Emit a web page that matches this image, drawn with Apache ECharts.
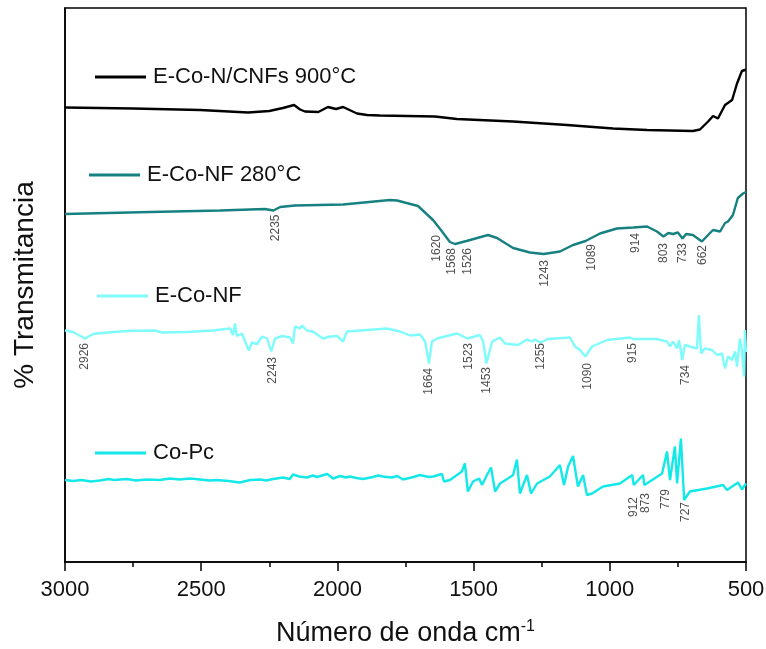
<!DOCTYPE html>
<html>
<head>
<meta charset="utf-8">
<script src="https://cdn.jsdelivr.net/npm/echarts@6/dist/echarts.min.js"></script>
<style>
  html, body { margin: 0; padding: 0; background: #fff; }
  #chart { width: 766px; height: 649px; }
</style>
</head>
<body>
<div id="chart"></div>
<script>
// FTIR spectra, stacked with vertical offsets (arbitrary transmittance units)
const xTicks = [3000, 2500, 2000, 1500, 1000, 500];
const seriesNames = ['E-Co-N/CNFs 900°C', 'E-Co-NF 280°C', 'E-Co-NF', 'Co-Pc'];

// [wavenumber (cm-1), transmittance]
const cnf900 = [[3000,90.9],[2750,90.7],[2504,90.4],[2328,89.9],[2250,90.2],[2200,90.8],[2159,91.4],[2137,90.5],[2119,90.1],[2070,90.0],[2035,91.0],[2005,90.6],[1979,91.0],[1928,89.7],[1891,89.4],[1844,89.3],[1642,89.1],[1561,88.6],[1355,88.1],[1157,87.4],[988,86.7],[863,86.4],[695,86.2],[669,86.5],[639,88.1],[621,89.2],[603,88.7],[577,91.4],[551,92.4],[533,95.7],[515,98.2],[504,98.4],[500,98.4]];

const nf280 = [[3000,69.6],[2688,70.0],[2431,70.3],[2266,70.6],[2235,70.3],[2210,71.0],[2156,71.3],[1979,71.5],[1807,72.4],[1781,72.3],[1704,71.2],[1649,68.4],[1620,66.4],[1587,64.0],[1568,63.6],[1526,64.2],[1513,64.4],[1447,65.4],[1414,64.8],[1355,62.8],[1293,61.9],[1243,61.6],[1183,62.1],[1135,63.4],[1089,64.2],[1036,65.7],[974,66.7],[914,66.9],[863,67.1],[827,66.1],[803,65.1],[785,65.8],[768,65.6],[750,65.9],[733,64.7],[720,65.6],[695,65.4],[662,64.1],[632,65.8],[621,66.4],[595,66.1],[577,67.8],[566,68.1],[548,69.4],[530,72.8],[511,73.7],[500,74.0]];

const nf = [[3000,46.3],[2971,46.0],[2926,44.7],[2897,45.6],[2846,45.9],[2772,46.2],[2670,46.3],[2644,45.9],[2552,46.0],[2457,46.3],[2394,46.7],[2383,45.4],[2376,47.7],[2369,45.2],[2350,45.7],[2339,44.1],[2325,42.3],[2314,43.9],[2295,43.6],[2277,45.1],[2258,44.7],[2243,42.1],[2229,44.7],[2203,45.2],[2174,44.9],[2163,43.7],[2156,47.1],[2137,46.7],[2130,47.3],[2112,46.3],[2090,46.1],[2053,44.7],[2027,45.1],[2001,45.2],[1979,44.1],[1965,46.1],[1917,46.3],[1818,46.7],[1770,46.1],[1733,45.3],[1697,45.5],[1678,44.1],[1664,39.7],[1653,44.1],[1634,44.7],[1561,45.7],[1523,44.7],[1477,45.4],[1465,44.1],[1453,39.7],[1432,44.1],[1403,44.9],[1385,43.7],[1337,43.4],[1304,44.5],[1286,44.1],[1275,44.5],[1255,43.9],[1227,44.6],[1146,44.9],[1128,43.1],[1109,42.4],[1090,41.1],[1065,43.1],[1010,44.4],[926,44.9],[915,44.6],[827,44.6],[790,44.1],[779,43.1],[768,44.1],[753,42.7],[746,44.4],[734,40.4],[724,43.4],[706,43.1],[680,42.7],[673,49.4],[665,41.7],[651,42.7],[625,42.4],[606,41.4],[588,41.7],[577,38.7],[566,41.1],[551,40.4],[540,42.1],[533,39.1],[522,44.7],[515,42.1],[507,37.1],[504,46.4],[500,42.0]];

const copc = [[3000,16.4],[2970,16.2],[2940,16.4],[2905,16.1],[2872,16.3],[2840,16.6],[2820,16.4],[2772,16.6],[2740,16.3],[2700,16.5],[2651,16.4],[2615,16.7],[2580,16.5],[2540,16.7],[2504,16.5],[2470,16.3],[2442,16.4],[2400,16.2],[2358,15.9],[2320,16.4],[2284,16.5],[2260,16.3],[2236,16.6],[2200,16.9],[2175,16.6],[2163,17.5],[2140,17.1],[2112,16.9],[2090,17.3],[2075,17.0],[2038,17.6],[2025,17.1],[2016,16.7],[1990,17.2],[1970,16.9],[1954,17.1],[1930,16.8],[1906,16.6],[1870,17.0],[1850,17.3],[1833,17.1],[1800,16.9],[1780,17.2],[1759,16.5],[1720,17.0],[1697,17.4],[1665,17.0],[1649,17.1],[1616,17.6],[1609,16.1],[1587,16.4],[1543,18.1],[1532,19.7],[1521,14.1],[1502,16.1],[1480,16.7],[1469,15.4],[1451,17.4],[1436,18.9],[1421,14.1],[1403,15.7],[1374,16.7],[1355,17.4],[1341,20.5],[1330,13.7],[1304,17.4],[1289,13.7],[1267,15.7],[1220,17.1],[1183,19.4],[1168,15.4],[1153,19.1],[1135,21.2],[1117,15.1],[1098,17.4],[1084,13.4],[1065,13.7],[1025,15.1],[963,15.7],[918,17.4],[912,15.4],[878,17.4],[873,15.4],[808,17.7],[790,22.1],[779,16.4],[761,23.1],[753,15.7],[739,24.7],[727,12.4],[706,14.1],[643,14.7],[584,15.4],[570,14.4],[529,15.9],[515,14.5],[500,15.7]];

// Assigned band positions (cm-1)
const peaks280 = [2235, 1620, 1568, 1526, 1243, 1089, 914, 803, 733, 662];
const peaksNF = [2926, 2243, 1664, 1523, 1453, 1255, 1090, 915, 734];
const peaksCoPc = [912, 873, 779, 727];

// label nudges in screen px [right, down] from each band point
const nudge280 = [[2,4],[-4,5],[-3,4],[1.5,7],[1.5,6],[6,3],[2,5.5],[0,6.5],[0.5,4.5],[1,3.5]];
const nudgeNF = [[0,4.5],[1,5.5],[0,4.5],[1,4.5],[0,3.5],[0,0.5],[2.5,6.5],[0,4],[3.5,5]];
const nudgeCoPc = [[0,12],[1.5,8],[-4,9],[2,2]];

const colors = ['#000000', '#178080', '#80fbfb', '#14e8e8'];
const FONT = "'Liberation Sans', Arial, sans-serif";

function valueAt(arr, w) {
  for (let i = 0; i < arr.length - 1; i++) {
    const a = arr[i], b = arr[i + 1];
    if (w <= a[0] && w >= b[0]) {
      const t = (a[0] - w) / (a[0] - b[0] || 1);
      return a[1] + t * (b[1] - a[1]);
    }
  }
  return arr[arr.length - 1][1];
}

// Vertical band labels hanging below the spectrum; the label offset is
// applied in the rotated frame, so screen [right, down] maps to [-down, right].
function bandLabels(arr, peaks, nudges) {
  return {
    type: 'scatter',
    symbolSize: 0,
    silent: true,
    z: 5,
    data: peaks.map((p, i) => ({
      value: [p, valueAt(arr, p)],
      label: { offset: [-nudges[i][1], nudges[i][0]] }
    })),
    label: {
      show: true,
      position: 'inside',
      distance: 0,
      rotate: 90,
      align: 'right',
      verticalAlign: 'middle',
      fontSize: 12,
      fontFamily: FONT,
      color: '#222',
      formatter: (p) => String(p.value[0])
    }
  };
}

function lineSeries(name, data, color, width) {
  return {
    name, type: 'line', data,
    showSymbol: false, symbol: 'none',
    lineStyle: { color, width },
    itemStyle: { color },
    z: 3
  };
}

const legendPos = [[95, 66], [89, 164], [97, 285], [95, 442]];

const chart = echarts.init(document.getElementById('chart'), null, { renderer: 'canvas' });
chart.setOption({
  animation: false,
  backgroundColor: '#fff',
  grid: {
    left: 65, right: 20, top: 8, bottom: 87,
    outerBoundsMode: 'none',
    containLabel: false,
    show: true, borderColor: '#000', borderWidth: 1.5, backgroundColor: 'transparent'
  },
  legend: seriesNames.map((n, i) => ({
    data: [n],
    left: legendPos[i][0], top: legendPos[i][1],
    padding: 0,
    icon: 'rect',
    itemWidth: 51, itemHeight: 3,
    selectedMode: false,
    textStyle: { fontSize: 22, fontFamily: FONT, color: '#111', padding: [0, 0, 0, 2] }
  })),
  xAxis: {
    type: 'value',
    inverse: true,
    min: 500, max: 3000, interval: 500,
    name: '{a|Número de onda cm}{b|-1}',
    nameLocation: 'middle',
    nameGap: 57,
    nameTextStyle: {
      rich: {
        a: { fontSize: 27, fontFamily: FONT, color: '#111', lineHeight: 30 },
        b: { fontSize: 16, fontFamily: FONT, color: '#111', verticalAlign: 'top', lineHeight: 30 }
      }
    },
    axisLine: { show: true, lineStyle: { color: '#000', width: 1.5 } },
    axisTick: { show: true, inside: false, length: 9, lineStyle: { color: '#000', width: 1.5 } },
    minorTick: { show: true, splitNumber: 2, length: 5, lineStyle: { color: '#000', width: 1.5 } },
    axisLabel: {
      fontSize: 22, fontFamily: FONT, color: '#111', margin: 17,
      formatter: (v) => String(v)
    },
    splitLine: { show: false }
  },
  yAxis: {
    type: 'value',
    min: 0, max: 110.8,
    name: '% Transmitancia',
    nameLocation: 'middle',
    nameRotate: 90,
    nameGap: 26,
    nameTextStyle: { fontSize: 28, fontFamily: FONT, color: '#111' },
    axisLine: { show: true, lineStyle: { color: '#000', width: 1.5 } },
    axisTick: { show: false },
    axisLabel: { show: false },
    splitLine: { show: false }
  },
  series: [
    lineSeries(seriesNames[3], copc, colors[3], 2.4),
    lineSeries(seriesNames[2], nf, colors[2], 2.4),
    lineSeries(seriesNames[1], nf280, colors[1], 2.4),
    lineSeries(seriesNames[0], cnf900, colors[0], 2.4),
    bandLabels(nf280, peaks280, nudge280),
    bandLabels(nf, peaksNF, nudgeNF),
    bandLabels(copc, peaksCoPc, nudgeCoPc)
  ]
});
</script>
</body>
</html>
